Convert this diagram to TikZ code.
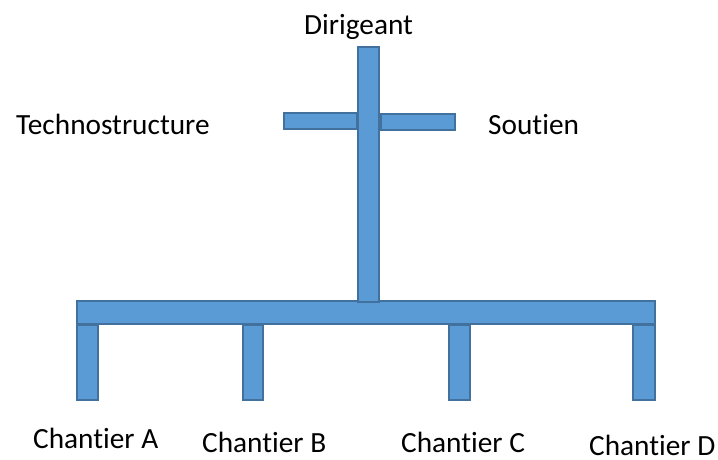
\documentclass[tikz,border=0pt]{standalone}
\usepackage{fontspec}
\setmainfont[Ligatures={NoCommon,NoRequired,NoContextual}]{Carlito}
\definecolor{barfill}{HTML}{5B9BD5}
\definecolor{barline}{HTML}{41719C}
\begin{document}
\begin{tikzpicture}[x=1pt,y=-1pt,
  bar/.style={draw=barline,fill=barfill,line width=2pt,inner sep=0pt,outer sep=0pt,
    rectangle,minimum width=#1},
  label/.style={anchor=base west,inner sep=0pt,font=\fontsize{29.3}{34}\selectfont}]
\useasboundingbox (0,0) rectangle (718,459);
% base beam
\node[bar=578pt,minimum height=23pt] (base) at (366,312.5) {};
% legs under the beam
\node[bar=21pt,minimum height=75pt] (legA) at (87.5,362.5) {};
\node[bar=20pt,minimum height=75pt] (legB) at (253,362.5) {};
\node[bar=21pt,minimum height=75pt] (legC) at (459.5,362.5) {};
\node[bar=22pt,minimum height=75pt] (legD) at (644,362.5) {};
% side arms
\node[bar=73pt,minimum height=16pt] (armL) at (320.5,121) {};
\node[bar=74pt,minimum height=16pt] (armR) at (418,122) {};
% central stem
\node[bar=21pt,minimum height=255pt] (stem) at (368.5,174.5) {};
% labels
\node[label] (dir) at (304,34) {Dirigeant};
\node[label] (tech) at (16,134) {Technostructure};
\node[label] (sout) at (488,134) {Soutien};
\node[label] (chA) at (33,448) {Chantier A};
\node[label] (chB) at (202,452) {Chantier B};
\node[label] (chC) at (401,452) {Chantier C};
\node[label] (chD) at (589,455) {Chantier D};
\end{tikzpicture}
\end{document}
